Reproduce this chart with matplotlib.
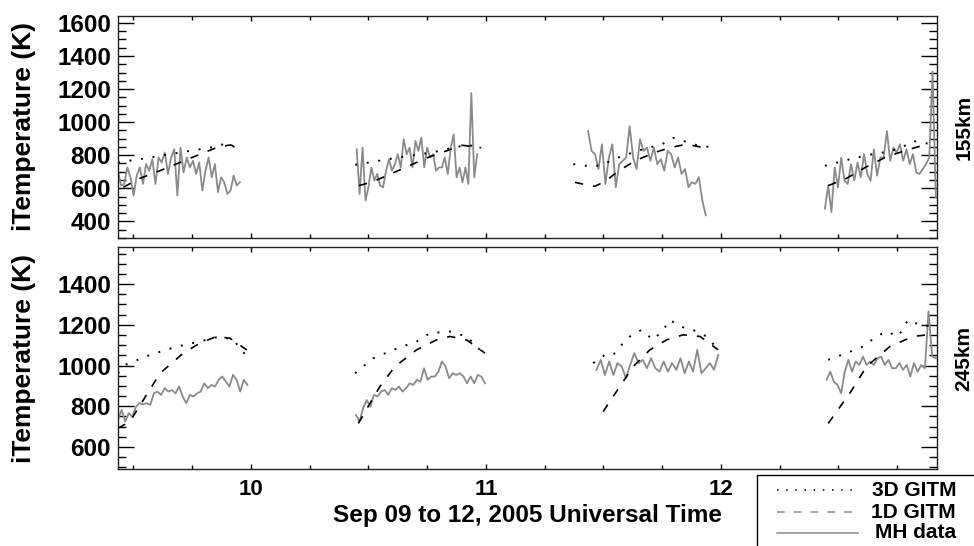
import numpy as np
import matplotlib
matplotlib.use('Agg')
from matplotlib import pyplot as plt
from matplotlib.lines import Line2D
from matplotlib.patches import Rectangle
from matplotlib.ticker import MultipleLocator

plt.rcParams['font.family'] = ['Liberation Sans', 'DejaVu Sans']
plt.rcParams['font.weight'] = 'bold'

# time axis: day of September 2005 (UT)
day_ticks = [10, 11, 12]
xlim = (9.434, 12.92)

# ---- 155 km panel ----
mh155_spans = [(9.434, 9.953), (10.450, 10.963), (11.435, 11.936), (12.443, 12.915)]
mh155 = [
    [706, 616, 626, 726, 666, 556, 676, 726, 626, 746, 706, 776, 626, 786, 756, 816, 686, 786, 836, 556,
     846, 696, 786, 726, 766, 686, 756, 586, 706, 786, 666, 746, 576, 666, 636, 566, 586, 676, 616, 636],
    [836, 566, 846, 526, 606, 726, 646, 686, 616, 606, 706, 776, 706, 746, 806, 726, 896, 806, 846, 726,
     886, 826, 906, 726, 846, 786, 806, 706, 726, 726, 786, 686, 846, 926, 666, 726, 636, 726, 626, 1176,
     666, 806],
    [946, 826, 806, 716, 866, 626, 786, 866, 606, 746, 766, 786, 976, 786, 716, 896, 826, 846, 766, 846,
     746, 776, 706, 826, 806, 726, 786, 686, 716, 606, 636, 626, 666, 526, 436],
    [476, 616, 456, 726, 606, 786, 646, 626, 746, 646, 756, 666, 806, 686, 646, 836, 676, 786, 786, 946,
     766, 846, 816, 866, 766, 836, 746, 806, 696, 686, 716, 746, 786, 1306, 546],
]
gitm3d_155 = [
    ([9.434, 9.528, 9.613, 9.698, 9.784, 9.840, 9.869, 9.911, 9.953],
     [756, 776, 796, 816, 836, 850, 866, 856, 846]),
    ([10.444, 10.52, 10.62, 10.72, 10.80, 10.87, 10.93, 10.98],
     [742, 760, 785, 805, 825, 850, 860, 845]),
    ([11.372, 11.457, 11.499, 11.570, 11.655, 11.755, 11.797, 11.854, 11.911, 11.956],
     [746, 730, 745, 790, 830, 870, 905, 880, 855, 850]),
    ([12.443, 12.535, 12.620, 12.705, 12.762, 12.818, 12.882, 12.904],
     [736, 770, 800, 820, 840, 886, 870, 860]),
]
gitm1d_155 = [
    ([9.457, 9.528, 9.613, 9.698, 9.784, 9.854, 9.911, 9.953],
     [606, 660, 706, 756, 806, 846, 862, 846]),
    ([10.46, 10.52, 10.60, 10.68, 10.76, 10.84, 10.90, 10.98],
     [616, 640, 690, 740, 790, 830, 860, 845]),
    ([11.379, 11.428, 11.464, 11.506, 11.570, 11.641, 11.726, 11.797, 11.854, 11.911, 11.953],
     [636, 620, 612, 640, 710, 770, 820, 850, 866, 850, 845]),
    ([12.457, 12.535, 12.620, 12.705, 12.790, 12.875],
     [616, 660, 730, 790, 830, 866]),
]

# ---- 245 km panel ----
mh245_spans = [(9.434, 9.985), (10.447, 10.996), (11.471, 11.989), (12.450, 12.915)]
mh245 = [
    [733, 782, 725, 766, 749, 798, 815, 810, 815, 807, 864, 872, 856, 889, 872, 880, 864, 897, 848, 815,
     856, 848, 864, 872, 913, 889, 905, 897, 930, 946, 921, 897, 954, 930, 872, 930, 905],
    [757, 725, 790, 831, 798, 856, 848, 872, 880, 856, 889, 880, 897, 872, 889, 913, 905, 930, 921, 987,
     930, 946, 946, 970, 1020, 995, 938, 962, 954, 962, 946, 913, 946, 913, 954, 946, 913],
    [979, 1028, 954, 1020, 954, 1012, 995, 938, 1003, 1061, 1012, 1028, 987, 1036, 987, 970, 1020, 970,
     1012, 979, 1036, 962, 1020, 970, 1077, 962, 987, 1012, 979, 1052],
    [930, 970, 921, 905, 864, 970, 1028, 970, 1020, 1003, 1044, 1003, 1020, 1003, 1036, 1044, 1003, 1028,
     987, 987, 1012, 979, 1003, 946, 1012, 970, 1003, 987, 1266, 1044, 1036],
]
gitm3d_245 = [
    ([9.434, 9.464, 9.570, 9.684, 9.783, 9.868, 9.925, 9.989],
     [962, 1003, 1052, 1093, 1118, 1143, 1126, 1036]),
    ([10.443, 10.521, 10.606, 10.705, 10.762, 10.847, 10.918, 10.996],
     [962, 1036, 1077, 1118, 1159, 1167, 1143, 1052]),
    ([11.457, 11.506, 11.542, 11.570, 11.613, 11.662, 11.712, 11.755, 11.783, 11.826, 11.882, 11.939, 11.989],
     [1012, 1052, 1052, 1093, 1143, 1175, 1126, 1175, 1224, 1192, 1175, 1143, 1077]),
    ([12.457, 12.535, 12.606, 12.662, 12.705, 12.755, 12.797, 12.847, 12.904],
     [1028, 1061, 1093, 1143, 1167, 1143, 1224, 1200, 1192]),
]
gitm1d_245 = [
    ([9.434, 9.485, 9.542, 9.613, 9.712, 9.783, 9.854, 9.911, 9.982],
     [692, 725, 831, 962, 1061, 1110, 1143, 1134, 1077]),
    ([10.457, 10.549, 10.613, 10.705, 10.790, 10.847, 10.918, 10.996],
     [716, 897, 995, 1077, 1126, 1143, 1126, 1061]),
    ([11.499, 11.570, 11.627, 11.698, 11.769, 11.840, 11.911, 11.989],
     [774, 897, 995, 1077, 1126, 1151, 1143, 1077]),
    ([12.457, 12.549, 12.620, 12.719, 12.818, 12.882],
     [716, 864, 995, 1093, 1143, 1151]),
]

panels = [
    dict(mh=mh155, spans=mh155_spans, g3=gitm3d_155, g1=gitm1d_155,
         ylim=(299, 1642), yticks=[400, 600, 800, 1000, 1200, 1400, 1600], alt='155km'),
    dict(mh=mh245, spans=mh245_spans, g3=gitm3d_245, g1=gitm1d_245,
         ylim=(492, 1582), yticks=[600, 800, 1000, 1200, 1400], alt='245km'),
]

dotted = (0, (1, 5))
dashed = (0, (5, 6))
gray = '#8a8a8a'

fig = plt.figure(figsize=(9.74, 5.46), dpi=100)
rects = [[0.1211, 0.5641, 0.8409, 0.4066], [0.1211, 0.141, 0.8409, 0.4066]]

for p, r in zip(panels, rects):
    ax = fig.add_axes(r)
    for (t0, t1), vals in zip(p['spans'], p['mh']):
        t = np.linspace(t0, t1, len(vals))
        ax.plot(t, vals, color=gray, lw=1.3)
    for t, v in p['g3']:
        ax.plot(t, v, color='black', lw=1.4, linestyle=dotted)
    for t, v in p['g1']:
        ax.plot(t, v, color='black', lw=1.2, linestyle=dashed)
    ax.set_xlim(*xlim)
    ax.set_ylim(*p['ylim'])
    ax.set_xticks(day_ticks)
    ax.xaxis.set_minor_locator(MultipleLocator(0.25))
    ax.set_yticks(p['yticks'])
    ax.yaxis.set_minor_locator(MultipleLocator(50))
    ax.tick_params(which='both', direction='in', top=True, right=True, width=1)
    ax.tick_params(axis='y', which='major', length=11.5, labelsize=17.5, pad=5)
    ax.tick_params(axis='y', which='minor', length=5.5)
    ax.tick_params(axis='x', which='major', length=3.5, labelsize=16, pad=7)
    ax.tick_params(axis='x', which='minor', length=3)
    for s in ax.spines.values():
        s.set_linewidth(1.0)
        s.set_color('#222222')
    ax.set_ylabel('iTemperature (K)', fontsize=19, fontweight='bold')
    ax.yaxis.set_label_coords(-0.1, 0.5)
    ax.text(1.033, 0.5, p['alt'], transform=ax.transAxes, rotation=90,
            ha='center', va='center', fontsize=15, fontweight='bold')
    for lab in ax.get_xticklabels() + ax.get_yticklabels():
        lab.set_fontweight('bold')
    if p['alt'] == '155km':
        ax.set_xticklabels([])
    else:
        ax.set_xlabel('Sep 09 to 12, 2005 Universal Time', fontsize=17.5, fontweight='bold', va='center')
        ax.xaxis.set_label_coords(0.5, -0.21)

# legend box, running off the lower right corner as in the original
fig.add_artist(Rectangle((757 / 974, -0.05), 0.3, 1 - 475 / 546 + 0.05,
                         transform=fig.transFigure, fill=False, edgecolor='black', lw=1.0))
legend_rows = [('3D GITM', 'black', dotted, 490), ('1D GITM', gray, dashed, 512), ('MH data', gray, '-', 533)]
for label, col, ls, ypix in legend_rows:
    yf = 1 - ypix / 546
    fig.add_artist(Line2D([777 / 974, 858 / 974], [yf, yf], transform=fig.transFigure,
                          color=col, lw=1.1, linestyle=ls))
    fig.text(956 / 974, yf, label, ha='right', va='center', fontsize=15, fontweight='bold')

fig.savefig('out.png', dpi=100)
